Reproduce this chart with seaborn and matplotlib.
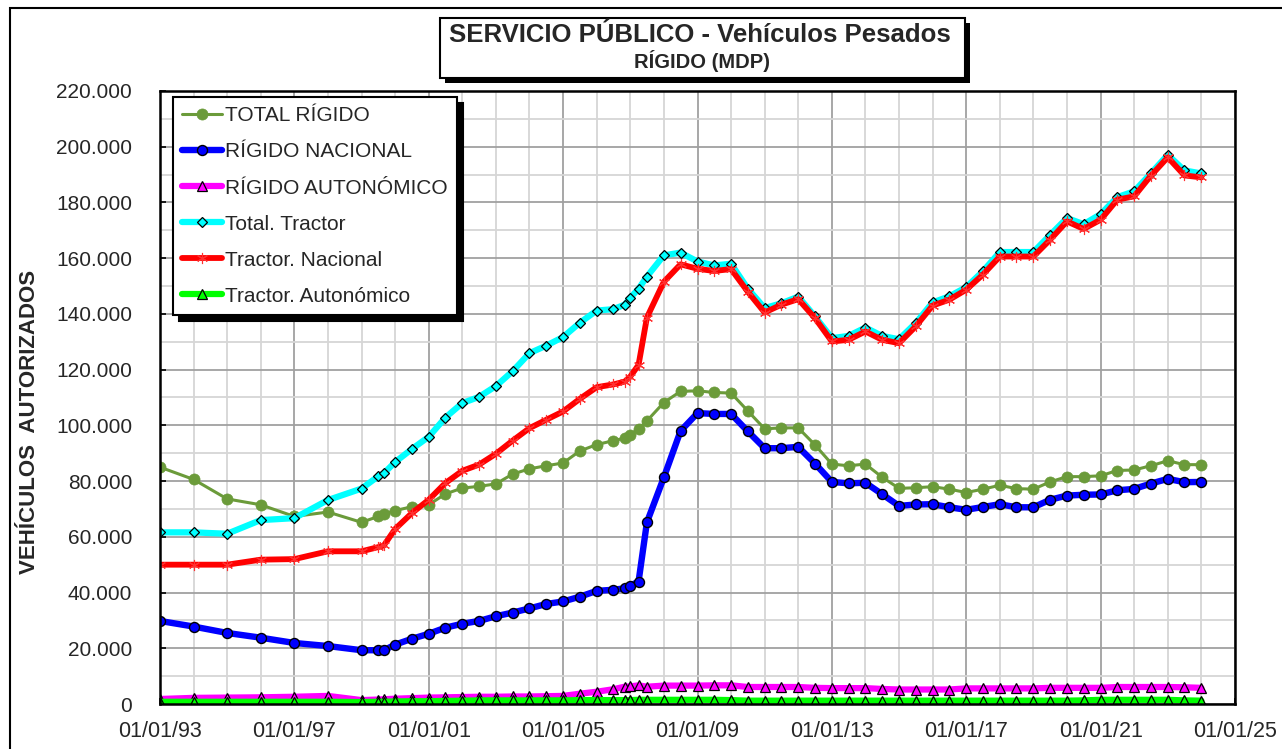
import matplotlib

matplotlib.use("Agg")
import matplotlib.dates as mdates
import matplotlib.pyplot as plt
import pandas as pd
import seaborn as sns
from matplotlib.patches import Rectangle
from matplotlib.ticker import FixedLocator, FuncFormatter, MultipleLocator

# fechas de corte (anual hasta 1999, luego semestral con algunos puntos extra)
dates = (
    [f"{y}-01-01" for y in range(1993, 2000)]
    + ["1999-07-01", "1999-09-01"]
    + [f"{y}-{m}-01" for y in range(2000, 2007) for m in ("01", "07")]
    + ["2006-11-01", "2007-01-01", "2007-04-01", "2007-07-01"]
    + [f"{y}-{m}-01" for y in range(2008, 2024) for m in ("01", "07")]
    + ["2024-01-01"]
)

total_rigido = [
    85000, 80600, 73600, 71500, 67300, 68900, 65200,
    67300, 68300,
    69400, 70800, 71500, 75400, 77500, 78100, 79000, 82500, 84400, 85500, 86500, 90800, 93100, 94500,
    95400, 96600, 98750, 101600,
    108200, 112200, 112400, 111800, 111600, 105200, 98750, 99100, 99100, 93000, 86100, 85500, 86100,
    81400, 77400, 77600, 78000, 77100, 75900, 77100, 78500, 77300, 77100, 79700, 81600, 81600, 81900,
    83800, 84000, 85500, 87300, 85900, 85900,
]
rigido_nacional = [
    29800, 27800, 25500, 23800, 21900, 20800, 19300,
    19300, 19300,
    21300, 23400, 25200, 27400, 28800, 29800, 31500, 32800, 34300, 35900, 36800, 38500, 40600, 41000,
    41500, 42500, 43900, 65200,
    81300, 98000, 104400, 104100, 104100, 97900, 91800, 91800, 92300, 86300, 79700, 79200, 79400,
    75300, 71100, 71600, 71700, 70600, 69700, 70700, 71700, 70600, 70600, 73300, 74800, 75100, 75200,
    76700, 77200, 79100, 80800, 79600, 79700,
]
rigido_autonomico = [
    1800, 2200, 2300, 2400, 2600, 2900, 1400,
    1600, 1700,
    1900, 2100, 2300, 2400, 2500, 2600, 2600, 2700, 2700, 2800, 2900, 3700, 4400, 5300,
    6200, 6300, 6700, 6200,
    6600, 6600, 6600, 6700, 6700, 6100, 6100, 6100, 6100, 5800, 5700, 5700, 5700,
    5400, 5200, 5200, 5200, 5200, 5600, 5600, 5600, 5600, 5600, 5800, 5800, 5800, 5800,
    6100, 6100, 6100, 6100, 6000, 5800,
]
total_tractor = [
    61600, 61600, 61100, 66000, 66700, 73200, 77300,
    81700, 82800,
    86800, 91500, 95900, 102800, 108000, 110200, 114100, 119400, 125900, 128600, 131700, 136800, 141200, 141700,
    143300, 145800, 149000, 153400,
    161000, 162000, 158800, 157400, 158000, 149100, 142100, 143800, 146200, 139100, 131300, 132100, 135100,
    132100, 130900, 136700, 144100, 146300, 149600, 155300, 162200, 162200, 162200, 168300, 174400, 172200,
    175800, 181900, 184000, 190400, 197100, 191500, 190400,
]
tractor_nacional = [
    50000, 50000, 50000, 51800, 52000, 54800, 54800,
    56300, 56900,
    62800, 68500, 73300, 79300, 83700, 85900, 89800, 94500, 99000, 102000, 105000, 109500, 113700, 114700,
    115700, 117500, 121700, 138700,
    151500, 157800, 156200, 155400, 156100, 148000, 140500, 143300, 145300, 138500, 130100, 130700, 133700,
    130700, 129500, 135500, 143000, 145100, 148700, 154100, 160600, 160600, 160600, 166600, 173200, 170500,
    173800, 181000, 182200, 189600, 196200, 189700, 189000,
]
tractor_autonomico = [
    800, 800, 800, 800, 800, 800, 700,
    800, 800,
    900, 1000, 1000, 1100, 1200, 1300, 1300, 1300, 1300, 1300, 1300, 1400, 1400, 1400,
    1400, 1400, 1500, 1500,
    1500, 1500, 1500, 1500, 1400, 1200, 1200, 1200, 1200, 1200, 1200, 1200, 1200,
    1200, 1200, 1200, 1200, 1200, 1200, 1200, 1200, 1200, 1200, 1200, 1200, 1300, 1500,
    1500, 1500, 1500, 1500, 1300, 1200,
]

W, H = 1282, 749

sns.set_theme(style="white")
plt.rcParams["font.family"] = ["Liberation Sans", "DejaVu Sans"]

fig = plt.figure(figsize=(W / 100, H / 100), dpi=100)
fig.patch.set_facecolor("white")
ax = fig.add_axes([160 / W, 1 - 704 / H, 1075 / W, 613 / H])

x = pd.to_datetime(dates)

series = [
    ("TOTAL RÍGIDO", total_rigido,
     dict(color="#6B9B3A", lw=2.2, marker="o", ms=8, mfc="#6B9B3A", mec="#6B9B3A", mew=0.5)),
    ("RÍGIDO NACIONAL", rigido_nacional,
     dict(color="#0000FF", lw=4.6, marker="o", ms=7.2, mfc="#0000FF", mec="black", mew=1)),
    ("RÍGIDO AUTONÓMICO", rigido_autonomico,
     dict(color="#FF00FF", lw=4.5, marker="^", ms=6.5, mfc="#FF00FF", mec="black", mew=0.9)),
    ("Total. Tractor", total_tractor,
     dict(color="#00FFFF", lw=4.5, marker="D", ms=5.5, mfc="#00FFFF", mec="black", mew=0.9)),
    ("Tractor. Nacional", tractor_nacional,
     dict(color="#FF0000", lw=4.2, marker=(6, 2, 0), ms=8, mfc="#FF3030", mec="#FF3030", mew=0.8)),
    ("Tractor. Autonómico", tractor_autonomico,
     dict(color="#00FF00", lw=4.5, marker="^", ms=6.5, mfc="#00FF00", mec="black", mew=0.9)),
]
for label, vals, st in series:
    sns.lineplot(x=x, y=vals, ax=ax, label=label, **st)

# ejes
ax.set_xlim(pd.Timestamp("1993-01-01"), pd.Timestamp("2025-01-01"))
ax.set_ylim(0, 220000)
major_x = mdates.date2num(pd.date_range("1993-01-01", "2025-01-01", freq="4YS"))
minor_x = mdates.date2num(pd.date_range("1993-01-01", "2025-01-01", freq="YS"))
ax.xaxis.set_major_locator(FixedLocator(major_x))
ax.xaxis.set_minor_locator(FixedLocator(minor_x))
ax.xaxis.set_major_formatter(mdates.DateFormatter("%d/%m/%y"))
ax.yaxis.set_major_locator(MultipleLocator(20000))
ax.yaxis.set_minor_locator(MultipleLocator(10000))
ax.yaxis.set_major_formatter(FuncFormatter(lambda v, _: f"{v:,.0f}".replace(",", ".")))

ax.set_axisbelow(True)
ax.grid(which="minor", color="#D6D6D6", lw=1.3)
ax.grid(which="major", color="#A0A0A0", lw=1.3)
ax.tick_params(which="major", length=4, width=1.2, color="black",
               direction="in", left=True, bottom=True)
ax.tick_params(axis="y", which="major", labelsize=15, pad=20)
ax.tick_params(axis="x", which="major", labelsize=15.5, pad=12)
ax.tick_params(which="minor", length=0)
for s in ax.spines.values():
    s.set_color("black")
    s.set_linewidth(1.8)
ax.set_xlabel("")
ax.set_ylabel("")

leg = ax.legend(
    loc="upper left",
    bbox_to_anchor=(173 / W, 1 - 97 / H),
    bbox_transform=fig.transFigure,
    frameon=True,
    fancybox=False,
    shadow={"ox": 4, "oy": -4, "color": "black", "alpha": 1},
    edgecolor="black",
    fontsize=15,
    handlelength=1.9,
    handletextpad=0.15,
    labelspacing=0.82,
    borderpad=0.45,
    borderaxespad=0,
)
leg.get_frame().set_linewidth(1.5)
leg.get_frame().set_alpha(1)

# marco exterior
fig.add_artist(Rectangle((10 / W, -0.5), 2, 1 - 8 / H + 0.5, transform=fig.transFigure,
                         fill=False, edgecolor="black", lw=1.5))

# titulo en caja con sombra
tx0, ty0, tw, th = 440 / W, 1 - 78 / H, 525 / W, 60 / H
fig.add_artist(Rectangle((tx0 + 5 / W, ty0 - 5 / H), tw, th, transform=fig.transFigure,
                         facecolor="black", edgecolor="black", lw=0))
fig.add_artist(Rectangle((tx0, ty0), tw, th, transform=fig.transFigure,
                         facecolor="white", edgecolor="black", lw=1.5))
fig.text(700 / W, 1 - 35 / H, "SERVICIO PÚBLICO - Vehículos Pesados", ha="center", va="center",
         fontsize=18.5, fontweight="bold")
fig.text(702 / W, 1 - 61 / H, "RÍGIDO (MDP)", ha="center", va="center",
         fontsize=14.5, fontweight="bold")

fig.text(30 / W, 1 - 422 / H, "VEHÍCULOS  AUTORIZADOS", rotation=90, ha="center", va="center",
         fontsize=16, fontweight="bold")

fig.savefig("out.png", dpi=100, facecolor="white")
